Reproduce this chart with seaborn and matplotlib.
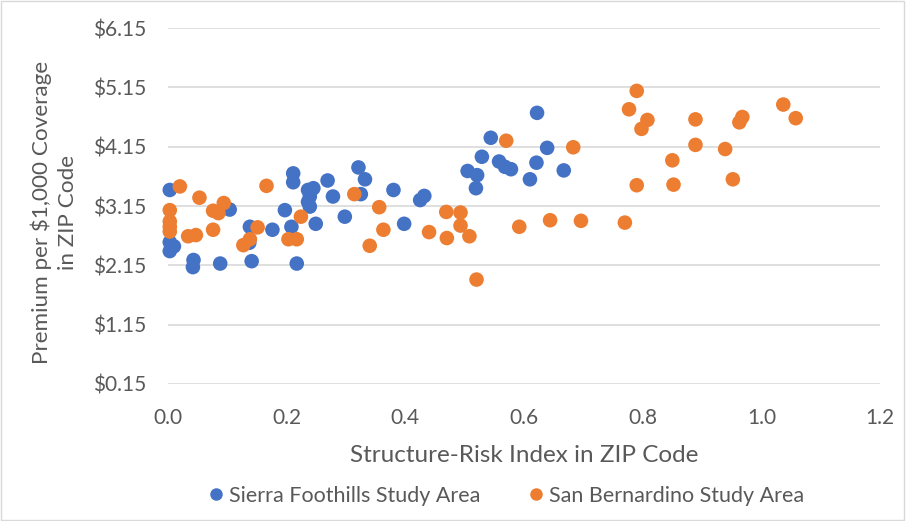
import numpy as np
import pandas as pd
import matplotlib
matplotlib.use("Agg")
import matplotlib.pyplot as plt
import seaborn as sns
from matplotlib.patches import Rectangle
from matplotlib.lines import Line2D

sierra_x = [0.003, 0.003, 0.010, 0.003, 0.043, 0.042, 0.088, 0.104, 0.138, 0.137, 0.141,
            0.176, 0.197, 0.208, 0.211, 0.211, 0.217, 0.236, 0.239, 0.236, 0.239, 0.245,
            0.249, 0.269, 0.278, 0.298, 0.321, 0.332, 0.325, 0.380, 0.398, 0.425, 0.432,
            0.505, 0.521, 0.519, 0.529, 0.544, 0.558, 0.568, 0.578, 0.610, 0.621, 0.622,
            0.639, 0.667]
sierra_y = [3.42, 2.54, 2.47, 2.39, 2.24, 2.12, 2.18, 3.09, 2.80, 2.53, 2.22,
            2.75, 3.08, 2.80, 3.70, 3.55, 2.18, 3.42, 3.31, 3.22, 3.14, 3.45,
            2.85, 3.58, 3.31, 2.97, 3.80, 3.60, 3.35, 3.42, 2.85, 3.25, 3.32,
            3.74, 3.67, 3.45, 3.98, 4.30, 3.90, 3.81, 3.77, 3.60, 3.88, 4.72,
            4.13, 3.75]

sanb_x = [0.020, 0.003, 0.003, 0.003, 0.003, 0.053, 0.034, 0.047, 0.076, 0.085, 0.094,
          0.076, 0.166, 0.127, 0.138, 0.151, 0.203, 0.217, 0.224, 0.314, 0.356, 0.363,
          0.340, 0.440, 0.469, 0.470, 0.493, 0.493, 0.508, 0.520, 0.570, 0.592, 0.644,
          0.683, 0.696, 0.770, 0.777, 0.790, 0.808, 0.798, 0.790, 0.850, 0.852, 0.889,
          0.889, 0.939, 0.952, 0.963, 0.968, 1.037, 1.058]
sanb_y = [3.48, 3.08, 2.89, 2.80, 2.72, 3.29, 2.64, 2.66, 3.07, 3.03, 3.20,
          2.75, 3.49, 2.49, 2.59, 2.79, 2.59, 2.59, 2.97, 3.35, 3.13, 2.75,
          2.48, 2.71, 3.05, 2.61, 3.04, 2.82, 2.64, 1.91, 4.25, 2.80, 2.91,
          4.14, 2.90, 2.87, 4.78, 5.09, 4.60, 4.45, 3.50, 3.92, 3.51, 4.61,
          4.18, 4.11, 3.60, 4.56, 4.65, 4.86, 4.63]

series_names = ["Sierra Foothills Study Area", "San Bernardino Study Area"]
y_ticks = [0.15, 1.15, 2.15, 3.15, 4.15, 5.15, 6.15]
x_ticks = [0.0, 0.2, 0.4, 0.6, 0.8, 1.0, 1.2]

df = pd.DataFrame({
    "x": sierra_x + sanb_x,
    "y": sierra_y + sanb_y,
    "area": [series_names[0]] * len(sierra_x) + [series_names[1]] * len(sanb_x),
})

sns.set_theme(style="white")
plt.rcParams["font.family"] = ["Lato", "DejaVu Sans"]

W, H = 906, 521
fig = plt.figure(figsize=(W / 100, H / 100), dpi=100)
ax = fig.add_axes([168 / W, 1 - 384 / H, (880 - 168) / W, (384 - 28) / H])

palette = {series_names[0]: "#4472C4", series_names[1]: "#ED7D31"}
sns.scatterplot(data=df, x="x", y="y", hue="area", palette=palette, s=110,
                linewidth=0, ax=ax, legend=False, clip_on=False, zorder=3)

ax.set_xlim(0, 1.2)
ax.set_ylim(0.15, 6.15)
ax.set_xticks(x_ticks)
ax.set_xticklabels([f"{v:.1f}" for v in x_ticks])
ax.set_yticks(y_ticks)
ax.set_yticklabels([f"${v:.2f}" for v in y_ticks])
ax.tick_params(axis="both", labelsize=15, colors="#595959", length=0)
ax.tick_params(axis="y", pad=16)
ax.tick_params(axis="x", pad=17)
ax.grid(axis="y", color="#d9d9d9", linewidth=1.2)
ax.grid(axis="x", visible=False)
for sp in ax.spines.values():
    sp.set_visible(False)

ax.set_xlabel("Structure-Risk Index in ZIP Code", fontsize=17.5, color="#595959")
ax.xaxis.label.set_va("center")
ax.xaxis.set_label_coords(0.5 * (168 + 880) / W, 1 - 456 / H, transform=fig.transFigure)
ax.set_ylabel("Premium per $1,000 Coverage\nin ZIP Code", fontsize=16.2, color="#595959",
              linespacing=1.35)
ax.yaxis.label.set_va("center")
ax.yaxis.set_label_coords(54 / W, 1 - 212 / H, transform=fig.transFigure)

handles = [Line2D([], [], marker="o", linestyle="", markersize=9, markerfacecolor=palette[n],
                  markeredgewidth=0) for n in series_names]
fig.legend(handles, series_names, loc="center", bbox_to_anchor=(505 / W, 1 - 496 / H), ncol=2,
           frameon=False, fontsize=15.5, handletextpad=0.1, columnspacing=2.1,
           handlelength=1.0, labelcolor="#595959")

fig.add_artist(Rectangle((0.001, 0.002), 0.997, 0.996, transform=fig.transFigure,
                         fill=False, edgecolor="#d9d9d9", linewidth=1))

fig.savefig("out.png", dpi=100)
